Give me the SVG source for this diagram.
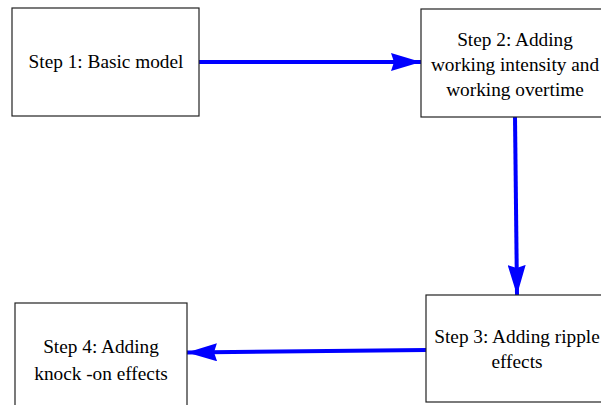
<svg xmlns="http://www.w3.org/2000/svg" width="601" height="405" viewBox="0 0 601 405">
<style>
.box{fill:#fff;stroke:#222;stroke-width:1.2}
.t{font-size:19.3px;fill:#000;text-anchor:middle}
.c{stroke:#0000ff;stroke-width:4;fill:none}
</style>
<defs>
<marker id="ah" markerUnits="userSpaceOnUse" markerWidth="32" markerHeight="18" refX="30" refY="9" orient="auto">
<path d="M0,0 L30,9 L0,18 L3,9 Z" fill="#0000ff"/>
</marker>
</defs>
<rect width="601" height="405" fill="#fff"/>
<g id="connectors">
<line class="c" x1="199" y1="62" x2="421" y2="62" marker-end="url(#ah)"/>
<line class="c" x1="515" y1="117" x2="517" y2="295" marker-end="url(#ah)"/>
<line class="c" x1="426" y1="350" x2="187" y2="352.5" marker-end="url(#ah)"/>
</g>
<g font-family="'Liberation Serif', 'DejaVu Serif', serif">
<g id="step1">
<rect class="box" x="12" y="8" width="187" height="108"/>
<text class="t" x="106" y="68">Step 1: Basic model</text>
</g>
<g id="step2">
<rect class="box" x="421" y="9" width="188" height="108"/>
<text class="t" x="515" y="46">Step 2: Adding</text>
<text class="t" x="515" y="71">working intensity and</text>
<text class="t" x="515" y="96">working overtime</text>
</g>
<g id="step3">
<rect class="box" x="426" y="295" width="184" height="107"/>
<text class="t" x="517" y="343">Step 3: Adding ripple</text>
<text class="t" x="517" y="368">effects</text>
</g>
<g id="step4">
<rect class="box" x="15" y="303" width="172" height="110"/>
<text class="t" x="101" y="353">Step 4: Adding</text>
<text class="t" x="101" y="380">knock -on effects</text>
</g>
</g>
</svg>
